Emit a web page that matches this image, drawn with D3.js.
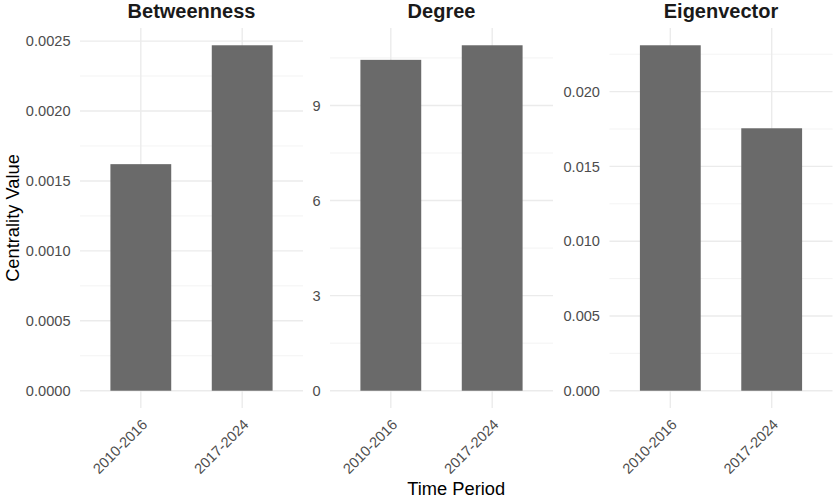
<!DOCTYPE html>
<html>
<head>
<meta charset="utf-8">
<script src="https://cdn.jsdelivr.net/npm/d3@7"></script>
<style>
  body { margin: 0; background: #fff; }
  text { font-family: "Liberation Sans", Arial, Helvetica, sans-serif; }
</style>
</head>
<body>
<div id="chart"></div>
<script>
// Data
const periods = ["2010-2016", "2017-2024"];
const measures = ["Betweenness", "Degree", "Eigenvector"];
const betweennessValues = [0.00162, 0.00247];
const degreeValues = [10.44, 10.90];
const eigenvectorValues = [0.0231, 0.01755];
const betweennessTicks = [0, 0.0005, 0.001, 0.0015, 0.002, 0.0025];
const degreeTicks = [0, 3, 6, 9];
const eigenvectorTicks = [0, 0.005, 0.01, 0.015, 0.02];

let width = 835;
let height = 499;
let panelTop = 28;
let panelBottom = 408;
let panelWidth = 223;
let panelLefts = [80, 330, 609.5];

let svg = d3.select('#chart')
    .append('svg')
    .attr('width', width)
    .attr('height', height);

const panels = [
    {name: measures[0], values: betweennessValues, ticks: betweennessTicks, fmt: d3.format('.4f')},
    {name: measures[1], values: degreeValues, ticks: degreeTicks, fmt: d3.format('d')},
    {name: measures[2], values: eigenvectorValues, ticks: eigenvectorTicks, fmt: d3.format('.3f')}
];

panels.forEach((p, i) => {
    let left = panelLefts[i];
    let g = svg.append('g');

    let x = d3.scalePoint()
        .domain(periods)
        .range([left, left + panelWidth])
        .padding(0.6);

    let maxV = d3.max(p.values);
    let y = d3.scaleLinear()
        .domain([-0.05 * maxV, 1.05 * maxV])
        .range([panelBottom, panelTop]);

    // minor grid lines halfway between major ticks
    let step = p.ticks[1] - p.ticks[0];
    let minor = [];
    for (let k = -1; k < p.ticks.length; k++) {
        let v = p.ticks[0] + (k + 0.5) * step;
        if (v > y.domain()[0] && v < y.domain()[1]) minor.push(v);
    }
    g.selectAll('.minor')
        .data(minor)
        .enter()
        .append('line')
        .attr('x1', left).attr('x2', left + panelWidth)
        .attr('y1', d => y(d)).attr('y2', d => y(d))
        .attr('stroke', '#f0f0f0')
        .attr('stroke-width', 0.8);

    // major grid lines
    g.selectAll('.major')
        .data(p.ticks)
        .enter()
        .append('line')
        .attr('x1', left).attr('x2', left + panelWidth)
        .attr('y1', d => y(d)).attr('y2', d => y(d))
        .attr('stroke', '#ebebeb')
        .attr('stroke-width', 1.4);

    g.selectAll('.vgrid')
        .data(periods)
        .enter()
        .append('line')
        .attr('x1', d => x(d)).attr('x2', d => x(d))
        .attr('y1', panelTop).attr('y2', panelBottom)
        .attr('stroke', '#ebebeb')
        .attr('stroke-width', 1.4);

    // bars
    let barW = x.step() * 0.6;
    g.selectAll('rect')
        .data(p.values)
        .enter()
        .append('rect')
        .attr('x', (d, j) => x(periods[j]) - barW / 2)
        .attr('width', barW)
        .attr('y', d => y(d))
        .attr('height', d => y(0) - y(d))
        .attr('fill', '#6a6a6a');

    // y tick labels
    g.selectAll('.ylab')
        .data(p.ticks)
        .enter()
        .append('text')
        .attr('x', left - 9.5)
        .attr('y', d => y(d))
        .attr('dy', '0.35em')
        .attr('text-anchor', 'end')
        .attr('font-size', '14.6px')
        .attr('fill', '#4d4d4d')
        .text(d => p.fmt(d));

    // x tick labels
    g.selectAll('.xlab')
        .data(periods)
        .enter()
        .append('text')
        .attr('transform', d => `translate(${x(d)}, ${panelBottom + 10}) rotate(-45)`)
        .attr('dy', '0.72em')
        .attr('text-anchor', 'end')
        .attr('font-size', '14.6px')
        .attr('fill', '#4d4d4d')
        .text(d => d);

    // facet title
    g.append('text')
        .attr('x', left + panelWidth / 2)
        .attr('y', 18)
        .attr('text-anchor', 'middle')
        .attr('font-size', '20px')
        .attr('font-weight', 'bold')
        .attr('fill', '#1a1a1a')
        .text(p.name);
});

// axis titles
svg.append('text')
    .attr('transform', `translate(19, ${(panelTop + panelBottom) / 2}) rotate(-90)`)
    .attr('text-anchor', 'middle')
    .attr('font-size', '18.3px')
    .attr('fill', '#000')
    .text('Centrality Value');

svg.append('text')
    .attr('x', (panelLefts[0] + panelLefts[2] + panelWidth) / 2)
    .attr('y', 495)
    .attr('text-anchor', 'middle')
    .attr('font-size', '18.3px')
    .attr('fill', '#000')
    .text('Time Period');
</script>
</body>
</html>
